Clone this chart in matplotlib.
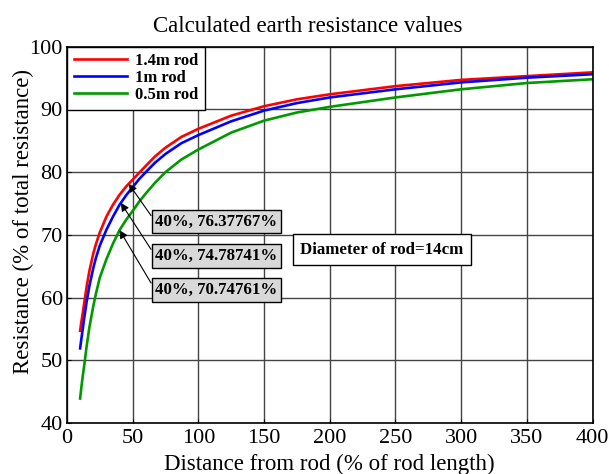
import numpy as np
import matplotlib.pyplot as plt

plt.rcParams['font.family'] = ['Liberation Serif', 'DejaVu Serif']

# distance from rod (% of rod length)
dist = [10, 11, 12, 13, 15, 17, 20, 22, 25, 30, 35, 40, 45, 50, 55, 60, 67, 75, 87,
        100, 125, 150, 175, 200, 250, 300, 350, 400]

# resistance (% of total) for each rod length
r_14 = [54.7, 56.2, 57.5, 59.0, 61.8, 64.2, 67.0, 68.5, 70.4, 72.9, 74.8, 76.37767, 77.7, 78.8, 79.9,
        81.0, 82.5, 83.9, 85.6, 86.9, 89.0, 90.5, 91.6, 92.4, 93.7, 94.7, 95.3, 95.9]
r_10 = [51.9, 53.5, 55.0, 56.6, 59.4, 61.8, 64.7, 66.3, 68.3, 70.8, 72.9, 74.78741, 76.3, 77.6, 78.9,
        80.0, 81.5, 82.9, 84.6, 85.9, 88.1, 89.8, 91.0, 91.9, 93.2, 94.3, 95.05, 95.6]
r_05 = [43.9, 45.8, 47.5, 49.0, 52.3, 55.2, 58.6, 60.6, 63.2, 66.1, 68.6, 70.74761, 72.4, 73.8, 75.3,
        76.6, 78.3, 80.0, 82.0, 83.6, 86.3, 88.2, 89.5, 90.4, 91.9, 93.2, 94.2, 94.8]

labels = ['1.4m rod', '1m rod', '0.5m rod']
colors = ['#ff0000', '#0000ff', '#009900']
marked_x = 40

fig = plt.figure(figsize=(6.09, 4.74), dpi=100)
ax = fig.add_axes([0.110, 0.1076, 0.863, 0.794])

for ys, lab, c in zip([r_14, r_10, r_05], labels, colors):
    ax.plot(dist, ys, color=c, lw=1.9, label=lab)

ax.set_xlim(0, 400)
ax.set_ylim(40, 100)
ax.set_xticks(range(0, 401, 50))
ax.set_yticks(range(40, 101, 10))
ax.grid(True, color='#444444', lw=1.0)
ax.tick_params(direction='in', length=3, labelsize=16)
ax.tick_params(axis='y', pad=3)
ax.tick_params(axis='x', pad=4)
for s in ax.spines.values():
    s.set_linewidth(1.2)

fig.text(0.506, 0.933, 'Calculated earth resistance values', fontsize=16.5,
         ha='center', va='baseline')
ax.set_xlabel('Distance from rod (% of rod length)', fontsize=16.5)
ax.xaxis.set_label_coords(0.5, -0.083)
ax.set_ylabel('Resistance (% of total resistance)', fontsize=16.5, va='center')
ax.yaxis.set_label_coords(-0.082, 0.535)

leg = ax.legend(loc='upper left', prop={'weight': 'bold', 'size': 12},
                fancybox=False, edgecolor='black', framealpha=1,
                borderaxespad=0, handlelength=3.2, labelspacing=0.05,
                borderpad=0.4, handletextpad=0.5)
leg.get_frame().set_linewidth(1.0)

# data tips for the value at 40% distance
tip_x = [47, 41, 40]
box_y = [0.535, 0.444, 0.353]
for ys, tx, by in zip([r_14, r_10, r_05], tip_x, box_y):
    val = np.interp(marked_x, dist, ys)
    ty = np.interp(tx, dist, ys)
    ax.annotate(f'{marked_x}%, {val:.5f}%', xy=(tx, ty), xycoords='data',
                xytext=(0.168, by), textcoords='axes fraction',
                ha='left', va='center', fontsize=12.2, fontweight='bold',
                bbox=dict(boxstyle='square,pad=0.22', fc='#d9d9d9', ec='black', lw=1),
                arrowprops=dict(arrowstyle='-|>', color='black', lw=0.8,
                                mutation_scale=12, shrinkA=0, shrinkB=0,
                                relpos=(0, 0.5)))

ax.text(0.444, 0.46, 'Diameter of rod=14cm', transform=ax.transAxes,
        ha='left', va='center', fontsize=12.2, fontweight='bold',
        bbox=dict(boxstyle='square,pad=0.45', fc='white', ec='black', lw=1))

fig.savefig('out.png', dpi=100)
